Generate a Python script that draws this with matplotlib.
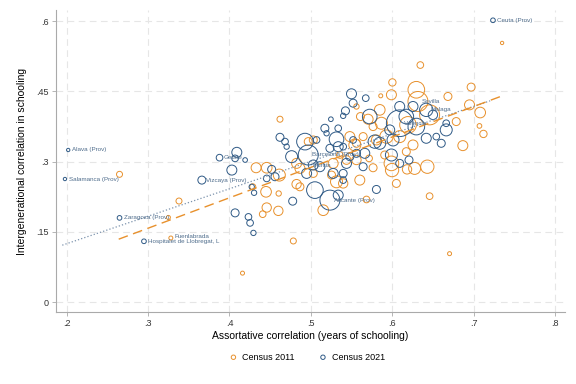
import matplotlib.pyplot as plt

# Census 2011 (orange): assortative corr, intergenerational corr, weight
x2011 = [0.7347, 0.6343, 0.600, 0.5988, 0.5857, 0.6294, 0.6314, 0.6682, 0.6967, 0.6947,
         0.7078, 0.6784, 0.7069, 0.7118, 0.6865, 0.6457, 0.6702, 0.6429, 0.6273, 0.618,
         0.6049, 0.5996, 0.5988, 0.6253, 0.609, 0.5845, 0.5702, 0.5608, 0.5559, 0.5539,
         0.560, 0.5763, 0.5682, 0.5151, 0.4784, 0.462, 0.4967, 0.5029, 0.4824, 0.4865,
         0.4824, 0.4865, 0.460, 0.4457, 0.4408, 0.4449, 0.4604, 0.4327, 0.4457, 0.4612,
         0.4286, 0.5314, 0.5396, 0.5273, 0.5437, 0.5355, 0.5478, 0.5641, 0.5804, 0.5927,
         0.6192, 0.6457, 0.5865, 0.5763, 0.5559, 0.5714, 0.5906, 0.6171, 0.5029, 0.5253,
         0.5559, 0.265, 0.338, 0.325, 0.328, 0.416]
y2011 = [0.5536, 0.5064, 0.4693, 0.4429, 0.4407, 0.4536, 0.4286, 0.4393, 0.4593, 0.4214,
         0.405, 0.3857, 0.3764, 0.3593, 0.3343, 0.2264, 0.1036, 0.2893, 0.2857, 0.2836,
         0.2536, 0.2821, 0.2964, 0.3357, 0.3536, 0.4107, 0.3907, 0.3964, 0.4179, 0.3357,
         0.2607, 0.2871, 0.2193, 0.1964, 0.1307, 0.3907, 0.3429, 0.3464, 0.2964, 0.2857,
         0.2521, 0.2464, 0.195, 0.2021, 0.1879, 0.2357, 0.2321, 0.2871, 0.2871, 0.2714,
         0.2464, 0.2571, 0.2536, 0.2964, 0.3036, 0.3143, 0.3536, 0.3536, 0.3464, 0.3536,
         0.3786, 0.400, 0.3821, 0.375, 0.3393, 0.3071, 0.3143, 0.3214, 0.275, 0.2714,
         0.3036, 0.273, 0.216, 0.181, 0.137, 0.062]
w2011 = [25, 100, 121, 225, 36, 625, 900, 144, 144, 225,
         256, 144, 49, 121, 225, 100, 36, 400, 324, 196,
         144, 400, 484, 225, 324, 256, 225, 144, 64, 324,
         225, 144, 100, 256, 81, 81, 144, 144, 225, 225,
         196, 144, 196, 196, 100, 256, 64, 225, 256, 324,
         81, 324, 196, 225, 169, 100, 225, 144, 225, 400,
         625, 900, 324, 144, 144, 100, 144, 144, 144, 144,
         196, 81, 81, 36, 36, 36]

# Census 2021 (blue)
x2021 = [0.7235, 0.5498, 0.5518, 0.5673, 0.5424, 0.5396, 0.5245, 0.5722, 0.609, 0.6171,
         0.6253, 0.609, 0.6416, 0.6498, 0.6661, 0.660, 0.6661, 0.6416, 0.6539, 0.5967,
         0.6008, 0.5845, 0.5784, 0.5661, 0.5641, 0.5804, 0.5988, 0.609, 0.6204, 0.5314,
         0.5335, 0.5233, 0.5396, 0.5171, 0.5192, 0.5335, 0.5518, 0.4927, 0.4967, 0.4763,
         0.462, 0.4682, 0.4702, 0.5069, 0.5029, 0.511, 0.5273, 0.5396, 0.4947, 0.5049,
         0.5233, 0.5335, 0.4776, 0.4069, 0.4233, 0.4253, 0.4294, 0.4273, 0.4302, 0.4518,
         0.4559, 0.4457, 0.409, 0.4029, 0.4069, 0.4192, 0.3878, 0.3661, 0.5478, 0.5559,
         0.5396, 0.5437, 0.6294, 0.202, 0.198, 0.265, 0.295]
y2021 = [0.602, 0.445, 0.425, 0.4357, 0.4086, 0.3979, 0.3907, 0.3964, 0.4179, 0.3964,
         0.4179, 0.3821, 0.4107, 0.400, 0.3679, 0.3393, 0.3821, 0.350, 0.3536, 0.3679,
         0.3464, 0.3393, 0.3429, 0.3179, 0.2893, 0.2407, 0.3143, 0.2964, 0.3036, 0.3479,
         0.3321, 0.3286, 0.3321, 0.3714, 0.3607, 0.3714, 0.3464, 0.3429, 0.3143, 0.3107,
         0.3521, 0.3429, 0.3321, 0.3464, 0.2929, 0.2893, 0.275, 0.275, 0.275, 0.2393,
         0.2179, 0.2286, 0.2157, 0.1907, 0.1821, 0.1693, 0.1479, 0.2464, 0.2336, 0.2836,
         0.2679, 0.2643, 0.320, 0.2821, 0.3071, 0.3036, 0.3086, 0.2607, 0.3107, 0.3179,
         0.2607, 0.2964, 0.375, 0.325, 0.263, 0.180, 0.130]
w2021 = [49, 225, 144, 100, 144, 64, 49, 484, 225, 484,
         225, 1600, 400, 196, 324, 144, 100, 225, 100, 225,
         324, 324, 400, 225, 144, 144, 324, 144, 144, 484,
         225, 144, 100, 144, 64, 100, 100, 625, 900, 324,
         144, 100, 64, 100, 225, 225, 225, 144, 225, 625,
         900, 225, 144, 144, 100, 100, 64, 64, 64, 144,
         144, 100, 225, 225, 100, 49, 100, 144, 144, 144,
         100, 225, 625, 25, 25, 49, 49]

# linear fits (endpoints)
fit2011_x = [0.264, 0.735]
fit2011_y = [0.1345, 0.4407]
fit2021_x = [0.1947, 0.720]
fit2021_y = [0.1217, 0.430]

# point labels
lab_names = ["Ceuta (Prov)", "Alava (Prov)", "Salamanca (Prov)", "Zaragoza (Prov)",
             "Hospitalet de Llobregat, L", "Fuenlabrada", "Vizcaya (Prov)", "Getafe",
             "Alicante (Prov)", "Sevilla", "Malaga", "Valencia", "Barcelona (Prov)", "Murcia"]
lab_x = [0.7235, 0.202, 0.198, 0.265, 0.295, 0.328, 0.3661, 0.3878,
         0.5233, 0.6314, 0.6416, 0.609, 0.4967, 0.4967]
lab_y = [0.602, 0.325, 0.263, 0.180, 0.130, 0.140, 0.2607, 0.3086,
         0.2179, 0.4286, 0.4107, 0.3821, 0.3143, 0.2929]

orange = "#E8912D"
blue = "#2F5A86"

plt.rcParams['font.family'] = ['Liberation Sans', 'DejaVu Sans']
fig = plt.figure(figsize=(5.76, 3.84), dpi=100)
ax = fig.add_axes([0.0972, 0.1875, 0.8838, 0.7865])

ax.scatter(x2011, y2011, s=[w * 0.23 for w in w2011], facecolors='none',
           edgecolors=orange, linewidths=0.7, label='Census 2011', zorder=3)
ax.scatter(x2021, y2021, s=[w * 0.23 for w in w2021], facecolors='none',
           edgecolors=blue, linewidths=0.7, label='Census 2021', zorder=3)

ax.plot(fit2021_x, fit2021_y, color='#7C93AD', lw=0.9, ls=':', zorder=4)
ax.plot(fit2011_x, fit2011_y, color=orange, lw=1.0, ls=(0, (7, 4)), zorder=4)

for name, lx, ly in zip(lab_names, lab_x, lab_y):
    ax.annotate(name, (lx, ly), xytext=(3, 0), textcoords='offset points',
                fontsize=4.5, color='#4F6D8C', va='center', zorder=5)

ax.set_xlim(0.187, 0.812)
ax.set_ylim(-0.021, 0.624)
xt = [0.2, 0.3, 0.4, 0.5, 0.6, 0.7, 0.8]
yt = [0, 0.15, 0.3, 0.45, 0.6]
ax.set_xticks(xt)
ax.set_xticklabels([".2", ".3", ".4", ".5", ".6", ".7", ".8"], fontsize=6.5)
ax.set_yticks(yt)
ax.set_yticklabels(["0", ".15", ".3", ".45", ".6"], fontsize=6.5)
ax.tick_params(colors='#333333', length=3, width=0.6, pad=2)
ax.tick_params(axis='both', color='#aaaaaa')
ax.grid(True, ls=(0, (6, 4)), color='#e6e6e6', lw=0.8)
ax.set_axisbelow(True)
for s in ['top', 'right']:
    ax.spines[s].set_visible(False)
for s in ['left', 'bottom']:
    ax.spines[s].set_color('#aaaaaa')
    ax.spines[s].set_linewidth(0.8)

ax.set_xlabel("Assortative correlation (years of schooling)", fontsize=7.5, labelpad=2)
ax.set_ylabel("Intergenerational correlation in schooling", fontsize=7.5, labelpad=7)

leg = fig.legend(*ax.get_legend_handles_labels(), loc='center', bbox_to_anchor=(0.533, 0.07),
                 ncol=2, frameon=False, fontsize=6.5, markerscale=1, columnspacing=2.6,
                 handlelength=1.0, handletextpad=0.5)
for h in leg.legend_handles:
    h.set_sizes([10])

fig.savefig("out.png", dpi=100)
